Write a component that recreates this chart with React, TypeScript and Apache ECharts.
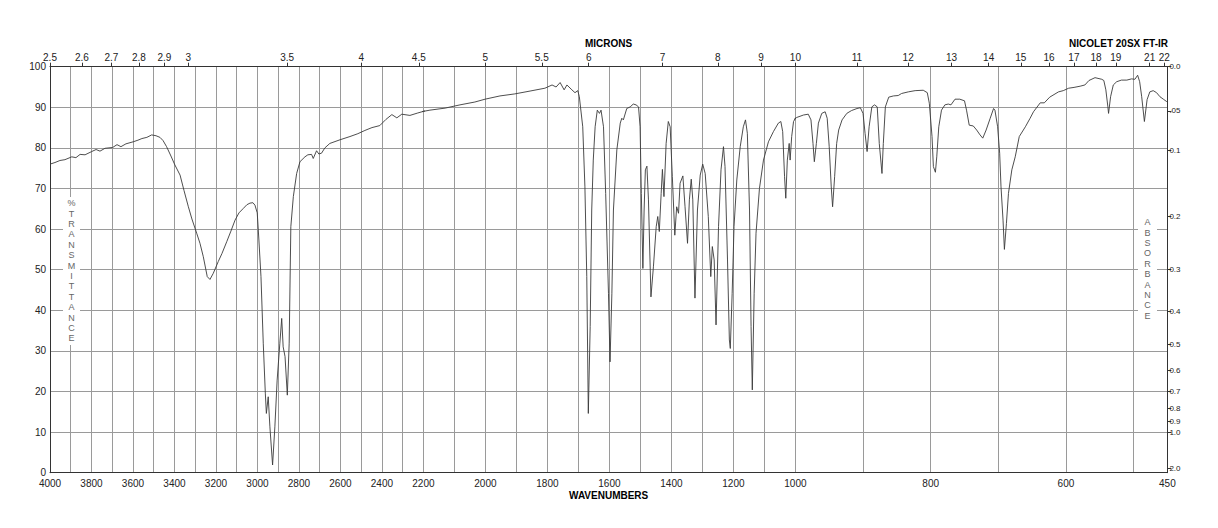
import React, { useEffect, useRef } from "react";
import * as echarts from "echarts";

// ---- data (wavenumber cm-1, %T) ----
const wavenumbers = [
  4000, 3976, 3952, 3928, 3895, 3875, 3855, 3831, 3799, 3778, 3759, 3735, 3698, 3677, 3658, 3634, 3599, 3576, 3557, 3533,
  3510, 3489, 3470, 3455, 3438, 3417, 3398, 3373, 3354, 3333, 3316, 3293, 3277, 3261, 3242, 3229, 3213, 3189, 3171, 3148,
  3128, 3108, 3089, 3068, 3051, 3036, 3022, 3012, 3001, 2993, 2983, 2972, 2962, 2957, 2948, 2940, 2927, 2916, 2905, 2892,
  2883, 2876, 2867, 2856, 2847, 2839, 2827, 2811, 2795, 2771, 2757, 2739, 2731, 2715, 2704, 2691, 2675, 2651,
  2602, 2554, 2516, 2482, 2448, 2410, 2381, 2352, 2328, 2304, 2265, 2227, 2200,
  2179, 2130, 2082, 2034, 2001, 1953, 1905, 1856, 1808, 1785, 1772,
  1759, 1746, 1737, 1721, 1711, 1702, 1697, 1686, 1679, 1673, 1668, 1662, 1657, 1652, 1646, 1639, 1632, 1627, 1619, 1612,
  1603, 1598, 1592, 1587, 1576, 1565, 1560, 1555, 1544, 1533, 1523, 1514, 1506, 1501, 1497, 1492, 1488, 1484, 1479, 1474,
  1466, 1458, 1449, 1444, 1439, 1433, 1429, 1424, 1417, 1410, 1404, 1397, 1389, 1383, 1377, 1372, 1363, 1356, 1348, 1342,
  1336, 1331, 1324, 1316, 1307, 1299, 1291, 1281, 1273, 1268, 1262, 1256, 1248, 1240, 1232, 1227, 1219, 1213, 1210, 1204,
  1198, 1189, 1178, 1168, 1161, 1155, 1148, 1143, 1139, 1133, 1127, 1116, 1103, 1087, 1071, 1055, 1047, 1041, 1035, 1031,
  1026, 1020, 1017, 1012, 1006, 998,
  988, 981, 977, 974, 972, 969, 966, 961, 956, 953, 950, 947, 945, 942, 939, 936, 931, 924, 917, 909,
  904, 900, 897, 894, 891, 887, 883, 879, 876, 872, 870, 867, 862, 855, 848, 843, 833, 823, 811, 805,
  802, 798, 796, 793, 791, 788, 784, 779, 774, 770, 764, 757, 750, 747, 743, 737, 732, 727, 723, 718,
  712, 707, 705, 701, 698, 696, 693, 691, 688, 685, 680, 675, 669, 660, 653, 648, 638, 632, 624, 611,
  604, 596, 588, 579, 572, 566, 557, 547, 544, 541, 538, 537, 534, 530, 525, 518, 510, 503, 498, 494,
  491, 488, 484, 480, 476, 471, 466, 461, 456, 451, 450,
];
const transmittance = [
  76.0, 76.4, 76.9, 77.1, 77.8, 77.6, 78.4, 78.3, 79.1, 79.6, 79.2, 79.9, 80.1, 80.8, 80.3, 81.0, 81.5, 81.9, 82.3, 82.6,
  83.2, 83.0, 82.6, 81.8, 80.3, 78.0, 75.8, 73.3, 69.5, 65.5, 62.5, 59.0, 56.5, 53.2, 48.3, 47.6, 49.1, 52.0, 54.0, 56.9,
  59.5, 62.2, 64.0, 65.1, 66.0, 66.4, 66.5, 65.9, 64.0, 57.3, 48.3, 31.9, 19.6, 14.6, 18.7, 11.3, 1.9, 11.3, 22.8, 31.9,
  38.0, 31.0, 28.6, 19.1, 31.9, 60.6, 68.0, 73.7, 76.6, 77.8, 78.3, 78.4, 77.4, 79.3, 78.5, 78.7, 80.0, 81.1,
  82.0, 82.8, 83.5, 84.3, 85.0, 85.5, 87.0, 88.2, 87.4, 88.3, 88.0, 88.6, 89.0,
  89.3, 89.8, 90.6, 91.3, 92.0, 92.8, 93.3, 94.0, 94.7, 95.5, 95.0,
  96.1, 94.3, 95.5, 94.3, 93.6, 94.1, 92.6, 85.2, 70.4, 48.3, 14.6, 36.0, 64.7, 77.0, 85.2, 89.3, 88.5, 89.3, 85.2, 68.8,
  44.2, 27.3, 44.2, 64.7, 79.5, 86.1, 87.3, 86.9, 89.7, 90.1, 90.8, 90.6, 90.1, 85.2, 68.8, 50.3, 64.7, 74.6, 75.5, 67.2,
  43.3, 50.7, 60.6, 63.1, 59.4, 68.8, 74.7, 68.0, 81.1, 86.5, 85.2, 72.9, 58.5, 65.5, 63.9, 71.3, 73.1, 65.5, 56.5, 67.2,
  72.3, 67.2, 43.0, 64.7, 73.3, 76.0, 73.7, 63.1, 48.3, 55.7, 52.4, 36.4, 60.6, 74.6, 80.3, 75.4, 52.4, 32.7, 30.6, 44.2,
  60.6, 72.1, 80.3, 85.2, 86.9, 83.6, 64.7, 36.0, 20.4, 44.2, 59.0, 70.0, 77.0, 81.5, 84.0, 86.1, 86.5, 84.0, 72.9, 67.6,
  77.0, 81.1, 77.0, 82.8, 86.5, 87.5,
  88.1, 88.3, 86.9, 81.1, 76.6, 81.1, 86.1, 88.5, 88.9, 87.3, 80.3, 70.4, 65.5, 72.9, 81.1, 84.4, 86.9, 88.5, 89.2, 89.7,
  89.9, 88.5, 83.6, 79.1, 85.2, 90.1, 90.6, 90.1, 81.1, 73.7, 81.1, 90.1, 92.5, 92.8, 92.9, 93.4, 93.8, 94.1, 94.2, 93.6,
  91.0, 82.8, 75.4, 74.0, 77.8, 85.2, 89.3, 90.6, 90.8, 90.6, 92.0, 92.0, 91.6, 89.3, 85.6, 85.4, 84.4, 83.2, 82.4, 84.4,
  87.3, 89.7, 89.3, 85.2, 78.7, 70.4, 62.2, 55.0, 61.4, 68.8, 74.6, 77.8, 82.8, 85.2, 87.3, 88.9, 91.1, 91.1, 92.5, 93.8,
  94.1, 94.7, 94.9, 95.2, 95.5, 96.6, 97.3, 96.9, 96.6, 94.3, 90.1, 88.5, 92.6, 95.5, 96.3, 96.7, 96.7, 97.0, 96.9, 97.9,
  96.3, 92.6, 86.5, 91.9, 93.8, 94.1, 93.6, 92.6, 92.0, 91.4, 91.3,
];

// ---- axis ticks / labels ----
const wavenumberLabels = [4000, 3800, 3600, 3400, 3200, 3000, 2800, 2600, 2400, 2200, 2000, 1800, 1600, 1400, 1200, 1000, 800, 600, 450];
const micronLabels = [2.5, 2.6, 2.7, 2.8, 2.9, 3, 3.5, 4, 4.5, 5, 5.5, 6, 7, 8, 9, 10, 11, 12, 13, 14, 15, 16, 17, 18, 19, 21, 22];
const absorbanceValues = [0, 0.05, 0.1, 0.2, 0.3, 0.4, 0.5, 0.6, 0.7, 0.8, 0.9, 1.0, 2.0];
const absorbanceLabels = ["0.0", ".05", "0.1", "0.2", "0.3", "0.4", "0.5", "0.6", "0.7", "0.8", "0.9", "1.0", "2.0"];
const gridStep = 100;

// three linear segments of the wavenumber scale: [low, high]
const segments: [number, number][] = [
  [2200, 4000],
  [1000, 2200],
  [450, 1000],
];

const FONT = "'Liberation Sans', Arial, Helvetica, sans-serif";
const PLOT_LEFT = 50;
const PLOT_TOP = 66.7;
const PLOT_H = 406;
const SEG_W = [373.4, 372, 372];
const GRID_COLOR = "#9a9a9a";
const AXIS_COLOR = "#333";

export default function App() {
  const ref = useRef<HTMLDivElement>(null);
  useEffect(() => {
    document.body.style.margin = "0";
    const chart = echarts.init(ref.current!, undefined, { renderer: "svg" });

    const grids: any[] = [];
    const xAxes: any[] = [];
    const yAxes: any[] = [];
    const series: any[] = [];
    let left = PLOT_LEFT;

    segments.forEach(([lo, hi], i) => {
      grids.push({ left, top: PLOT_TOP, width: SEG_W[i], height: PLOT_H, containLabel: false });
      left += SEG_W[i];

      const gridTicks: number[] = [];
      for (let v = Math.ceil(lo / gridStep) * gridStep; v <= hi; v += gridStep) gridTicks.push(v);
      // each boundary label belongs to the segment on its left only
      const bottomLabs = wavenumberLabels.filter((v) => v >= lo && v <= hi && !(i > 0 && v === hi));
      const micronWn = micronLabels
        .map((m) => 10000 / m)
        .filter((v) => v >= lo - 1e-6 && v <= hi + 1e-6 && !(i > 0 && Math.abs(v - hi) < 1e-6));

      // bottom wavenumber axis
      xAxes.push({
        type: "value",
        gridIndex: i,
        position: "bottom",
        min: lo,
        max: hi,
        inverse: true,
        axisLine: { show: true, onZero: false, lineStyle: { color: AXIS_COLOR, width: 1 } },
        axisTick: { show: false, customValues: gridTicks },
        axisLabel: {
          show: true,
          customValues: bottomLabs,
          showMinLabel: true,
          showMaxLabel: true,
          margin: 6,
          fontSize: 10,
          color: "#222",
          fontFamily: FONT,
          formatter: (v: number) => String(v),
        },
        splitLine: { show: true, lineStyle: { color: GRID_COLOR, width: 1 } },
      });
      // top micron axis
      xAxes.push({
        type: "value",
        gridIndex: i,
        position: "top",
        min: lo,
        max: hi,
        inverse: true,
        axisLine: { show: true, onZero: false, lineStyle: { color: AXIS_COLOR, width: 1 } },
        axisTick: { show: true, customValues: micronWn, length: 4, lineStyle: { color: AXIS_COLOR } },
        axisLabel: {
          show: true,
          customValues: micronWn,
          showMinLabel: true,
          showMaxLabel: true,
          margin: 4,
          fontSize: 10,
          color: "#222",
          fontFamily: FONT,
          formatter: (v: number) => String(Number((10000 / v).toFixed(1))),
        },
        splitLine: { show: false },
      });

      yAxes.push({
        type: "value",
        gridIndex: i,
        position: "left",
        min: 0,
        max: 100,
        interval: 10,
        axisLine: { show: i === 0, lineStyle: { color: AXIS_COLOR, width: 1 } },
        axisTick: { show: false },
        axisLabel: { show: i === 0, margin: 4, fontSize: 10, color: "#222", fontFamily: FONT },
        splitLine: { show: true, lineStyle: { color: GRID_COLOR, width: 1 } },
      });

      // data for this segment, with one neighbour on each side (clipped by the grid)
      const pts: [number, number][] = [];
      for (let k = 0; k < wavenumbers.length; k++) {
        const w = wavenumbers[k];
        const inside = w >= lo && w <= hi;
        const prevInside = k > 0 && wavenumbers[k - 1] >= lo && wavenumbers[k - 1] <= hi;
        const nextInside = k < wavenumbers.length - 1 && wavenumbers[k + 1] >= lo && wavenumbers[k + 1] <= hi;
        if (inside || prevInside || nextInside) pts.push([w, transmittance[k]]);
      }
      series.push({
        type: "line",
        xAxisIndex: i * 2,
        yAxisIndex: i,
        data: pts,
        showSymbol: false,
        symbol: "none",
        clip: true,
        lineStyle: { color: "#3a3a3a", width: 0.9 },
        z: 5,
      });
    });

    const absPercent = absorbanceValues.map((a) => 100 * Math.pow(10, -a));
    yAxes.push({
      type: "value",
      gridIndex: 2,
      position: "right",
      min: 0,
      max: 100,
      axisLine: { show: true, lineStyle: { color: AXIS_COLOR, width: 1 } },
      axisTick: { show: true, customValues: absPercent, length: 4, lineStyle: { color: AXIS_COLOR } },
      axisLabel: {
        show: true,
        customValues: absPercent,
        showMinLabel: true,
        showMaxLabel: true,
        margin: 2,
        fontSize: 8,
        color: "#222",
        fontFamily: FONT,
        formatter: (v: number) => {
          let best = 0;
          absPercent.forEach((p, idx) => {
            if (Math.abs(p - v) < Math.abs(absPercent[best] - v)) best = idx;
          });
          return absorbanceLabels[best];
        },
      },
      splitLine: { show: false },
    });

    const vertText = (s: string) => s.split("").join("\n");

    chart.setOption({
      animation: false,
      backgroundColor: "#fff",
      textStyle: { fontFamily: FONT },
      grid: grids,
      xAxis: xAxes,
      yAxis: yAxes,
      series,
      graphic: [
        { type: "text", left: 609 - 24, top: 38, style: { text: "MICRONS", font: `bold 10px ${FONT}`, fill: "#000" } },
        { type: "text", right: 50, top: 38, style: { text: "NICOLET 20SX FT-IR", font: `bold 10px ${FONT}`, fill: "#000" } },
        { type: "text", left: 609 - 40, top: 490, style: { text: "WAVENUMBERS", font: `bold 10px ${FONT}`, fill: "#000" } },
        { type: "rect", shape: { x: 63, y: 197, width: 17, height: 148 }, style: { fill: "#fff" }, z: 50 },
        {
          type: "text",
          x: 71.5,
          y: 198,
          z: 51,
          style: {
            text: vertText("%TRANSMITTANCE"),
            font: `9px ${FONT}`,
            fill: "#666",
            align: "center",
            lineHeight: 10.4,
          },
        },
        { type: "rect", shape: { x: 1138, y: 216, width: 19, height: 108 }, style: { fill: "#fff" }, z: 50 },
        {
          type: "text",
          x: 1147.5,
          y: 217,
          z: 51,
          style: {
            text: vertText("ABSORBANCE"),
            font: `9px ${FONT}`,
            fill: "#666",
            align: "center",
            lineHeight: 10.4,
          },
        },
      ],
    });
    return () => chart.dispose();
  }, []);
  return <div ref={ref} style={{ width: 1218, height: 528 }} />;
}
